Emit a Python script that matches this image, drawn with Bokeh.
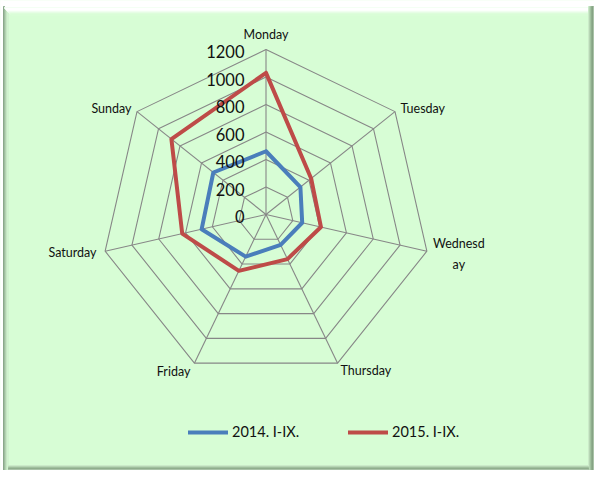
import numpy as np
from bokeh.plotting import figure
from bokeh.models import Range1d, Legend, LegendItem, ColumnDataSource
from bokeh.core.properties import value
from bokeh.embed import file_html
from bokeh.resources import INLINE

# ---------------- data ----------------
days = ["Monday", "Tuesday", "Wednesday", "Thursday", "Friday", "Saturday", "Sunday"]
day_labels = ["Monday", "Tuesday", "Wednesd\nay", "Thursday", "Friday", "Saturday", "Sunday"]
series_names = ["2014. I-IX.", "2015. I-IX."]
values_2014 = [460, 320, 270, 245, 340, 480, 490]
values_2015 = [1030, 420, 410, 360, 455, 625, 880]
ticks = [0, 200, 400, 600, 800, 1000, 1200]
r_max = 1200

# ---------------- geometry ----------------
W, H = 594, 470
CX, CY = 265.5, 214.0          # chart centre in figure pixels
S = 165.0 / r_max              # pixels per value unit

FONT = "Lato"
GREEN = "#d7fdd5"

def px2x(px):
    return (px - CX) / S

def py2y(py):
    return (CY - py) / S

p = figure(width=W, height=H, output_backend="svg", toolbar_location=None,
           x_range=Range1d(px2x(0), px2x(W)), y_range=Range1d(py2y(H), py2y(0)),
           min_border=0, background_fill_color=GREEN, border_fill_color=GREEN)
p.axis.visible = False
p.grid.visible = False
p.outline_line_color = None

n = len(days)
ang = np.array([2 * np.pi * k / n for k in range(n)])
ux, uy = np.sin(ang), np.cos(ang)

# ---------------- bevel frame ----------------
def band(x0, x1, y0, y1, c):
    p.quad(left=px2x(x0), right=px2x(x1), top=py2y(y0), bottom=py2y(y1), color=c)

band(0, W, 0, 6, "#ffffff")
band(0, 3, 0, H, "#ffffff")
left_cols = ["#8aa88a", "#9fbd9f", "#b3d3b1", "#c6e6c4", "#d1f3cf"]
for i, c in enumerate(left_cols):
    band(3 + i, 4 + i, 6 + i, H, c)
top_cols = ["#f4fff4", "#ffffff", "#ffffff", "#fbfffb", "#f0fef0", "#e6fde5", "#ddfddb", "#d9fdd7"]
for i, c in enumerate(top_cols):
    band(4 + i, W - 6, 7 + i, 8 + i, c)
right_cols = ["#cbebc9", "#b6d6b4", "#a2c2a0", "#8fae8d", "#86a384", "#a9c3a8"]
for i, c in enumerate(right_cols):
    band(W - 6 + i, W - 5 + i, 6, H, c)
bot_cols = ["#cbebc9", "#b6d6b4", "#9fbf9d", "#8fae8d", "#a9c3a8"]
for i, c in enumerate(bot_cols):
    band(8, W - 6, H - 5 + i, H - 4 + i, c)

# ---------------- grid ----------------
grid_col = "#878787"
for t in ticks[1:]:
    xs = list(t * ux) + [t * ux[0]]
    ys = list(t * uy) + [t * uy[0]]
    p.line(xs, ys, line_color=grid_col, line_width=1.1)
p.segment(x0=[0] * n, y0=[0] * n, x1=list(r_max * ux), y1=list(r_max * uy),
          line_color=grid_col, line_width=1.1)

# ---------------- series ----------------
def closed(vals):
    v = np.array(vals, dtype=float)
    return list(v * ux) + [v[0] * ux[0]], list(v * uy) + [v[0] * uy[0]]

x14, y14 = closed(values_2014)
x15, y15 = closed(values_2015)
r14 = p.line(x14, y14, line_color="#4a7ebb", line_width=4, line_join="round", line_cap="round")
r15 = p.line(x15, y15, line_color="#be4b48", line_width=4, line_join="round", line_cap="round")

# ---------------- tick labels ----------------
p.text(x=[0] * len(ticks), y=ticks, text=[str(t) for t in ticks],
       text_align="right", text_baseline="middle", x_offset=-21.5, y_offset=2,
       text_font=value(FONT), text_font_size="16.5px", text_color="#111111")

# ---------------- category labels ----------------
lab_align = ["center", "left", "center", "left", "right", "right", "right"]
lab_dx = [0, 5.5, 32, 3, -4, -8.6, -5.5]
lab_dy = [-15, -2.7, 3, 7.3, 8, 1.7, -2.7]
src = ColumnDataSource(dict(x=list(r_max * ux), y=list(r_max * uy), text=day_labels,
                            align=lab_align, dx=lab_dx, dy=lab_dy))
p.text(x="x", y="y", text="text", source=src, text_align="align", text_baseline="middle",
       x_offset="dx", y_offset="dy", text_font=value(FONT), text_font_size="12.5px",
       text_color="#111111", text_line_height=1.4)

# ---------------- legend ----------------
for r, name, lx in [(r14, series_names[0], 188), (r15, series_names[1], 348)]:
    lg = Legend(items=[LegendItem(label=name, renderers=[r])], location=(lx, 30),
                orientation="horizontal", padding=0, margin=0, glyph_width=40,
                glyph_height=16, label_height=16, label_standoff=4,
                border_line_color=None, background_fill_alpha=0,
                label_text_font=FONT, label_text_font_size="14.5px",
                label_text_color="#111111")
    p.add_layout(lg)

open("out.html", "w").write(file_html(p, INLINE))
